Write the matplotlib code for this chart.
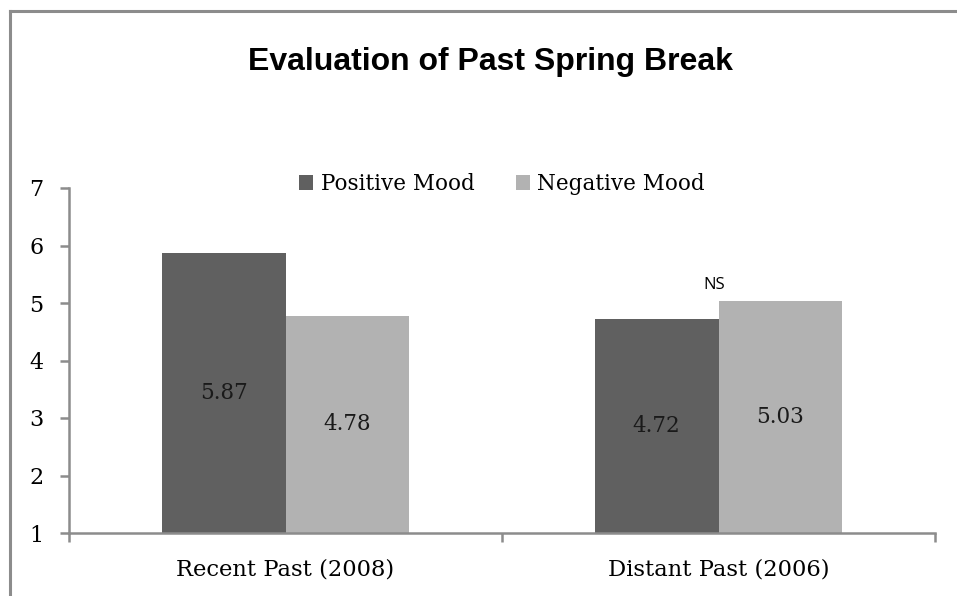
import matplotlib
matplotlib.use("Agg")
import matplotlib.pyplot as plt
import numpy as np
from matplotlib.patches import Patch
from matplotlib.lines import Line2D

categories = ["Recent Past (2008)", "Distant Past (2006)"]
series_names = ["Positive Mood", "Negative Mood"]
positive = [5.87, 4.72]
negative = [4.78, 5.03]
yticks = [1, 2, 3, 4, 5, 6, 7]
title = "Evaluation of Past Spring Break"
annotation = "NS"

colors = ["#606060", "#b2b2b2"]
axis_gray = "#8c8c8c"
serif = "DejaVu Serif"

fig = plt.figure(figsize=(9.57, 5.96), dpi=100)
W, H = 957, 596
ax = fig.add_axes([69 / W, 1 - 533 / H, (935 - 69) / W, (533 - 188) / H])

x = np.arange(len(categories))
bw = 0.2857
b1 = ax.bar(x - bw / 2, positive, bw, bottom=0, color=colors[0], label=series_names[0])
b2 = ax.bar(x + bw / 2, negative, bw, bottom=0, color=colors[1], label=series_names[1])

ax.set_ylim(1, 7)
ax.set_xlim(-0.5, 1.5)
ax.set_yticks(yticks)
ax.set_yticklabels([str(t) for t in yticks], fontsize=16, family=serif)

# value labels in bar middles
for bars, vals in [(b1, positive), (b2, negative)]:
    for rect, v in zip(bars, vals):
        cx = rect.get_x() + rect.get_width() / 2
        ax.text(cx, (1 + v) / 2, f"{v:.2f}", ha="center", va="center",
                fontsize=15.5, family=serif, color="#1a1a1a")

ax.text(x[1] - 0.01, 5.31, annotation, ha="center", va="center",
        fontsize=12, family="Open Sans", color="black")

# spines
for s in ["top", "right"]:
    ax.spines[s].set_visible(False)
for s in ["left", "bottom"]:
    ax.spines[s].set_color(axis_gray)
    ax.spines[s].set_linewidth(1.8)

ax.tick_params(axis="y", length=6.5, width=1.8, color=axis_gray, pad=12)
# x ticks at category boundaries
ax.set_xticks([-0.5, 0.5, 1.5])
ax.set_xticklabels([])
ax.tick_params(axis="x", length=6.5, width=1.8, color=axis_gray)
for xi, cat in zip(x, categories):
    ax.text(xi, -0.075, cat, transform=ax.get_xaxis_transform(), ha="center", va="top",
            fontsize=16.3, family=serif, color="black")

fig.text(490 / W, 1 - 62 / H, title, ha="center", va="center",
         fontsize=23, fontweight="bold", family="Liberation Sans")

handles = [Patch(facecolor=c, edgecolor="none") for c in colors]
leg = fig.legend(handles, series_names, loc="center", bbox_to_anchor=(502 / W, 1 - 184 / H),
                 ncol=2, frameon=False, handlelength=0.65, handleheight=0.65,
                 handletextpad=0.35, columnspacing=1.9,
                 prop={"family": serif, "size": 15.5})

# outer border lines (top and left)
fig.add_artist(Line2D([10 / W, 1], [1 - 11 / H, 1 - 11 / H], transform=fig.transFigure,
                      color=axis_gray, lw=2.2))
fig.add_artist(Line2D([10 / W, 10 / W], [0, 1 - 11 / H], transform=fig.transFigure,
                      color=axis_gray, lw=2.2))

fig.savefig("out.png", dpi=100)
